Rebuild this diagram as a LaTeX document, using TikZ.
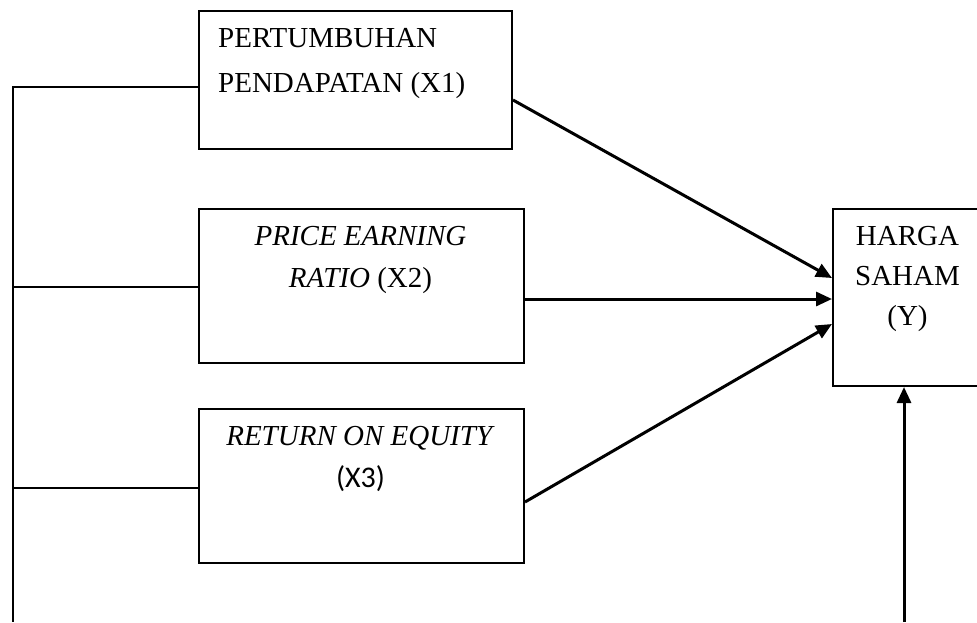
\documentclass[tikz,border=0pt]{standalone}
\usepackage{fontspec}
\setmainfont{Liberation Serif}
\newfontfamily\calfont{Carlito}
\usetikzlibrary{arrows.meta,calc}
\begin{document}
\begin{tikzpicture}[x=1pt,y=-1pt,
  boxnode/.style={draw,line width=2pt,inner sep=0pt,anchor=north west},
  txt/.style={inner sep=0pt,font=\fontsize{29}{35}\selectfont},
  conn/.style={line width=2.2pt},
  arr/.style={line width=3pt,-{Triangle[length=16pt,width=14pt]}}]
\useasboundingbox (0,0) rectangle (977,622);
% boxes
\node[boxnode,minimum width=313pt,minimum height=138pt] (b1) at (198,10) {};
\node[boxnode,minimum width=325pt,minimum height=154pt] (b2) at (198,208) {};
\node[boxnode,minimum width=325pt,minimum height=154pt] (b3) at (198,408) {};
\node[boxnode,minimum width=152pt,minimum height=177pt] (by) at (832,208) {};
% texts
\node[txt,anchor=base west] (t1a) at (218,47) {PERTUMBUHAN};
\node[txt,anchor=base west] (t1b) at (218,92) {PENDAPATAN (X1)};
\node[txt,anchor=base] (t2a) at (360.5,245) {\textit{PRICE EARNING}};
\node[txt,anchor=base] (t2b) at (360.5,287) {\textit{RATIO} (X2)};
\node[txt,anchor=base] (t3a) at (360.5,445) {\textit{RETURN ON EQUITY}};
\node[txt,anchor=base] (t3b) at (360.5,487) {\calfont\fontsize{30}{35}\selectfont (X3)};
\node[txt,anchor=base] (ya) at (907.5,245) {HARGA};
\node[txt,anchor=base] (yb) at (907.5,285) {SAHAM};
\node[txt,anchor=base] (yc) at (907.5,325) {(Y)};
% left connector
\coordinate (lbot) at (13,622);
\coordinate (vbot) at (904,622);
\draw[conn] ($(b1.north west)+(0,77)$) -| (lbot);
\draw[conn] ($(b2.north west)+(0,79)$) -- ($(lbot)+(0,-335)$);
\draw[conn] ($(b3.north west)+(0,80)$) -- ($(lbot)+(0,-134)$);
% arrows
\draw[arr] ($(b1.north east)+(0,90)$) -- ($(by.north west)+(0,70)$);
\draw[arr] ($(b2.north east)+(0,91)$) -- ($(by.north west)+(0,91)$);
\draw[arr] ($(b3.north east)+(0,94)$) -- ($(by.north west)+(0,116)$);
\draw[arr] (vbot) -- (vbot |- by.south);
\end{tikzpicture}
\end{document}
